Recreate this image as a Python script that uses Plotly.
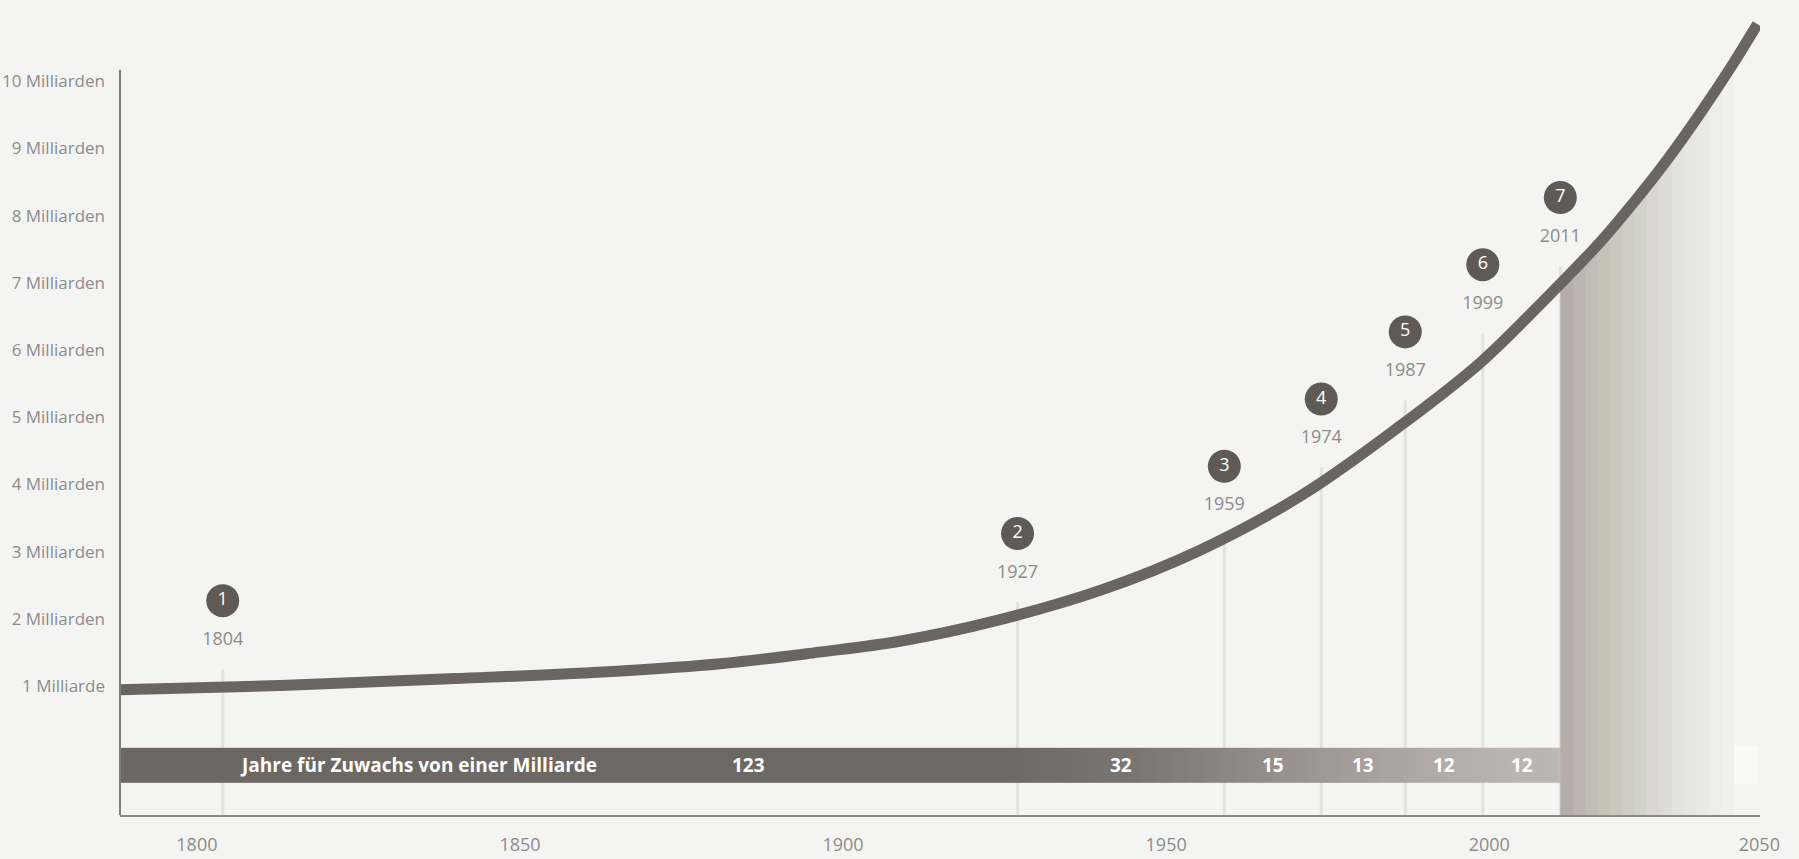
import numpy as np
import plotly.graph_objects as go

# ---------------- data ----------------
years = [1787, 1814, 1840, 1865, 1881, 1896, 1909, 1924, 1940, 1955, 1971, 1986.2,
         1998.6, 2009.1, 2017.2, 2022.3, 2027.6, 2032.7, 2037.8, 2041.5]
population_bn = [0.94, 1.01, 1.11, 1.22, 1.33, 1.50, 1.67, 1.98, 2.43, 3.01, 3.84, 4.87,
                 5.81, 6.80, 7.61, 8.19, 8.84, 9.53, 10.27, 10.85]

milestone_years = [1804, 1927, 1959, 1974, 1987, 1999, 2011]
milestone_bn = [1, 2, 3, 4, 5, 6, 7]
years_per_billion = [123, 32, 15, 13, 12, 12]

y_tick_vals = list(range(1, 11))
y_tick_text = ["1 Milliarde"] + [f"{i} Milliarden" for i in range(2, 11)]
x_tick_vals = [1800, 1850, 1900, 1950, 2000, 2041.8]
x_tick_text = ["1800", "1850", "1900", "1950", "2000", "2050"]
bar_title = "Jahre für Zuwachs von einer Milliarde"

# ---------------- style ----------------
BG = "#f4f4f2"
LINE = "#6a6560"
FONT = "Open Sans"
TXT = "#8c8c8c"
X_RANGE = [1788.1, 2041.9]
Y_RANGE = [-0.92, 11.09]
BAR_Y = (-0.44, 0.08)
BAR_END = 2037.8


fig = go.Figure()
shapes = []

# milestone guide lines
for yr, n in zip(milestone_years, milestone_bn):
    shapes.append(dict(type="line", xref="x", yref="y", x0=yr, x1=yr, y0=Y_RANGE[0], y1=n + 0.25,
                       line=dict(color="#e2e2df", width=3), layer="below"))

# right-hand faint box in the bar
shapes.append(dict(type="rect", xref="x", yref="y", x0=2037.9, x1=2041.6, y0=-0.47, y1=0.11,
                   fillcolor="#f9f9f8", line=dict(width=0), layer="below"))

# y-axis line
shapes.append(dict(type="line", xref="paper", yref="y", x0=0, x1=0, y0=Y_RANGE[0], y1=10.17,
                   line=dict(color="#7d7d7d", width=2), layer="above"))

# gradient bar "Jahre für Zuwachs" as a one-row heatmap
bar_stops = [(1788, "#6c6763"), (1925, "#6e6965"), (1945, "#7b7571"), (1960, "#8d8783"),
             (1975, "#a09995"), (1988, "#aea7a3"), (2000, "#b8b2ae"), (2010.5, "#bdb7b3"),
             (2011.5, "#c7bfba"), (2020, "#cdc7c2"), (2028, "#d9d6d2"), (2034, "#e5e3e0"),
             (BAR_END, "#edecea")]
z0, z1 = X_RANGE[0], BAR_END
cscale = [[(max(min(y, z1), z0) - z0) / (z1 - z0), c] for y, c in bar_stops]
cscale[0][0] = 0.0
cscale[-1][0] = 1.0
bx = np.append(np.arange(z0, z1, 0.5), z1)
bz = 0.5 * (bx[:-1] + bx[1:])
fig.add_trace(go.Heatmap(x=bx, y=list(BAR_Y), z=[bz], colorscale=cscale, zmin=z0, zmax=z1,
                         showscale=False, hoverinfo="skip", zsmooth=False))

# shaded projection area under the curve after 2011
shade_colors = ["#b6ada8", "#bdb5b0", "#c3bbb5", "#c8c1b8", "#ccc7bd", "#d1ccc3", "#d2d3c9",
                "#d8d8d1", "#dddcd7", "#e2e2de", "#e6e6e3", "#e9e9e8", "#ededec", "#f0f0ef"]
sh_edges = np.linspace(milestone_years[-1], BAR_END, len(shade_colors) + 1)
for i, col in enumerate(shade_colors):
    right = sh_edges[i + 1] + (0.4 if i < len(shade_colors) - 1 else 0.0)
    xs = np.linspace(sh_edges[i], right, 6)
    tops = np.interp(xs, years, population_bn) - 0.05
    px = [xs[0]] + list(xs) + [xs[-1]]
    py = [Y_RANGE[0]] + list(tops) + [Y_RANGE[0]]
    fig.add_trace(go.Scatter(x=px, y=py, fill="toself", fillcolor=col, mode="none",
                             hoverinfo="skip", showlegend=False))

# population curve
fig.add_trace(go.Scatter(x=years, y=population_bn, mode="lines",
                         line=dict(color=LINE, width=11, shape="spline", smoothing=1.0),
                         hoverinfo="skip", showlegend=False))

# milestone circles and year labels
fig.add_trace(go.Scatter(x=milestone_years, y=[n + 1.27 for n in milestone_bn],
                         mode="markers+text", text=[str(n) for n in milestone_bn],
                         textposition="middle center",
                         textfont=dict(family=FONT, size=18, color="#ffffff"),
                         marker=dict(size=33, color="#5f5a56", line=dict(width=0)),
                         hoverinfo="skip", showlegend=False, cliponaxis=False))
fig.add_trace(go.Scatter(x=milestone_years, y=[n + 0.68 for n in milestone_bn],
                         mode="text", text=[str(y) for y in milestone_years],
                         textposition="middle center",
                         textfont=dict(family=FONT, size=18, color=TXT),
                         hoverinfo="skip", showlegend=False, cliponaxis=False))

annotations = []
bar_mid = 0.5 * (BAR_Y[0] + BAR_Y[1])
annotations.append(dict(x=1806.3, y=bar_mid, xref="x", yref="y", text=f"<b>{bar_title}</b>",
                        showarrow=False, xanchor="left", yanchor="middle",
                        font=dict(family=FONT, size=19, color="#ffffff")))
label_x = [1885.3] + [0.5 * (a + b) for a, b in zip(milestone_years[1:-1], milestone_years[2:])]
for lx, v in zip(label_x, years_per_billion):
    annotations.append(dict(x=lx, y=bar_mid, xref="x", yref="y", text=f"<b>{v}</b>",
                            showarrow=False, xanchor="center", yanchor="middle",
                            font=dict(family=FONT, size=19, color="#ffffff")))

fig.update_layout(
    width=1799, height=859,
    margin=dict(l=120, r=39, t=8, b=44, autoexpand=False),
    paper_bgcolor=BG, plot_bgcolor=BG,
    showlegend=False,
    shapes=shapes,
    annotations=annotations,
    xaxis=dict(range=X_RANGE, tickvals=x_tick_vals, ticktext=x_tick_text, showgrid=False,
               zeroline=False, showline=True, linecolor="#8a8a8a", linewidth=2, ticks="",
               ticklabelstandoff=12, tickfont=dict(family=FONT, size=18, color=TXT),
               automargin=False, fixedrange=True),
    yaxis=dict(range=Y_RANGE, tickvals=y_tick_vals, ticktext=y_tick_text, showgrid=False,
               zeroline=False, showline=False, ticks="", ticklabelstandoff=14,
               tickfont=dict(family=FONT, size=17, color=TXT), automargin=False,
               fixedrange=True),
)

fig.write_html("out.html")
